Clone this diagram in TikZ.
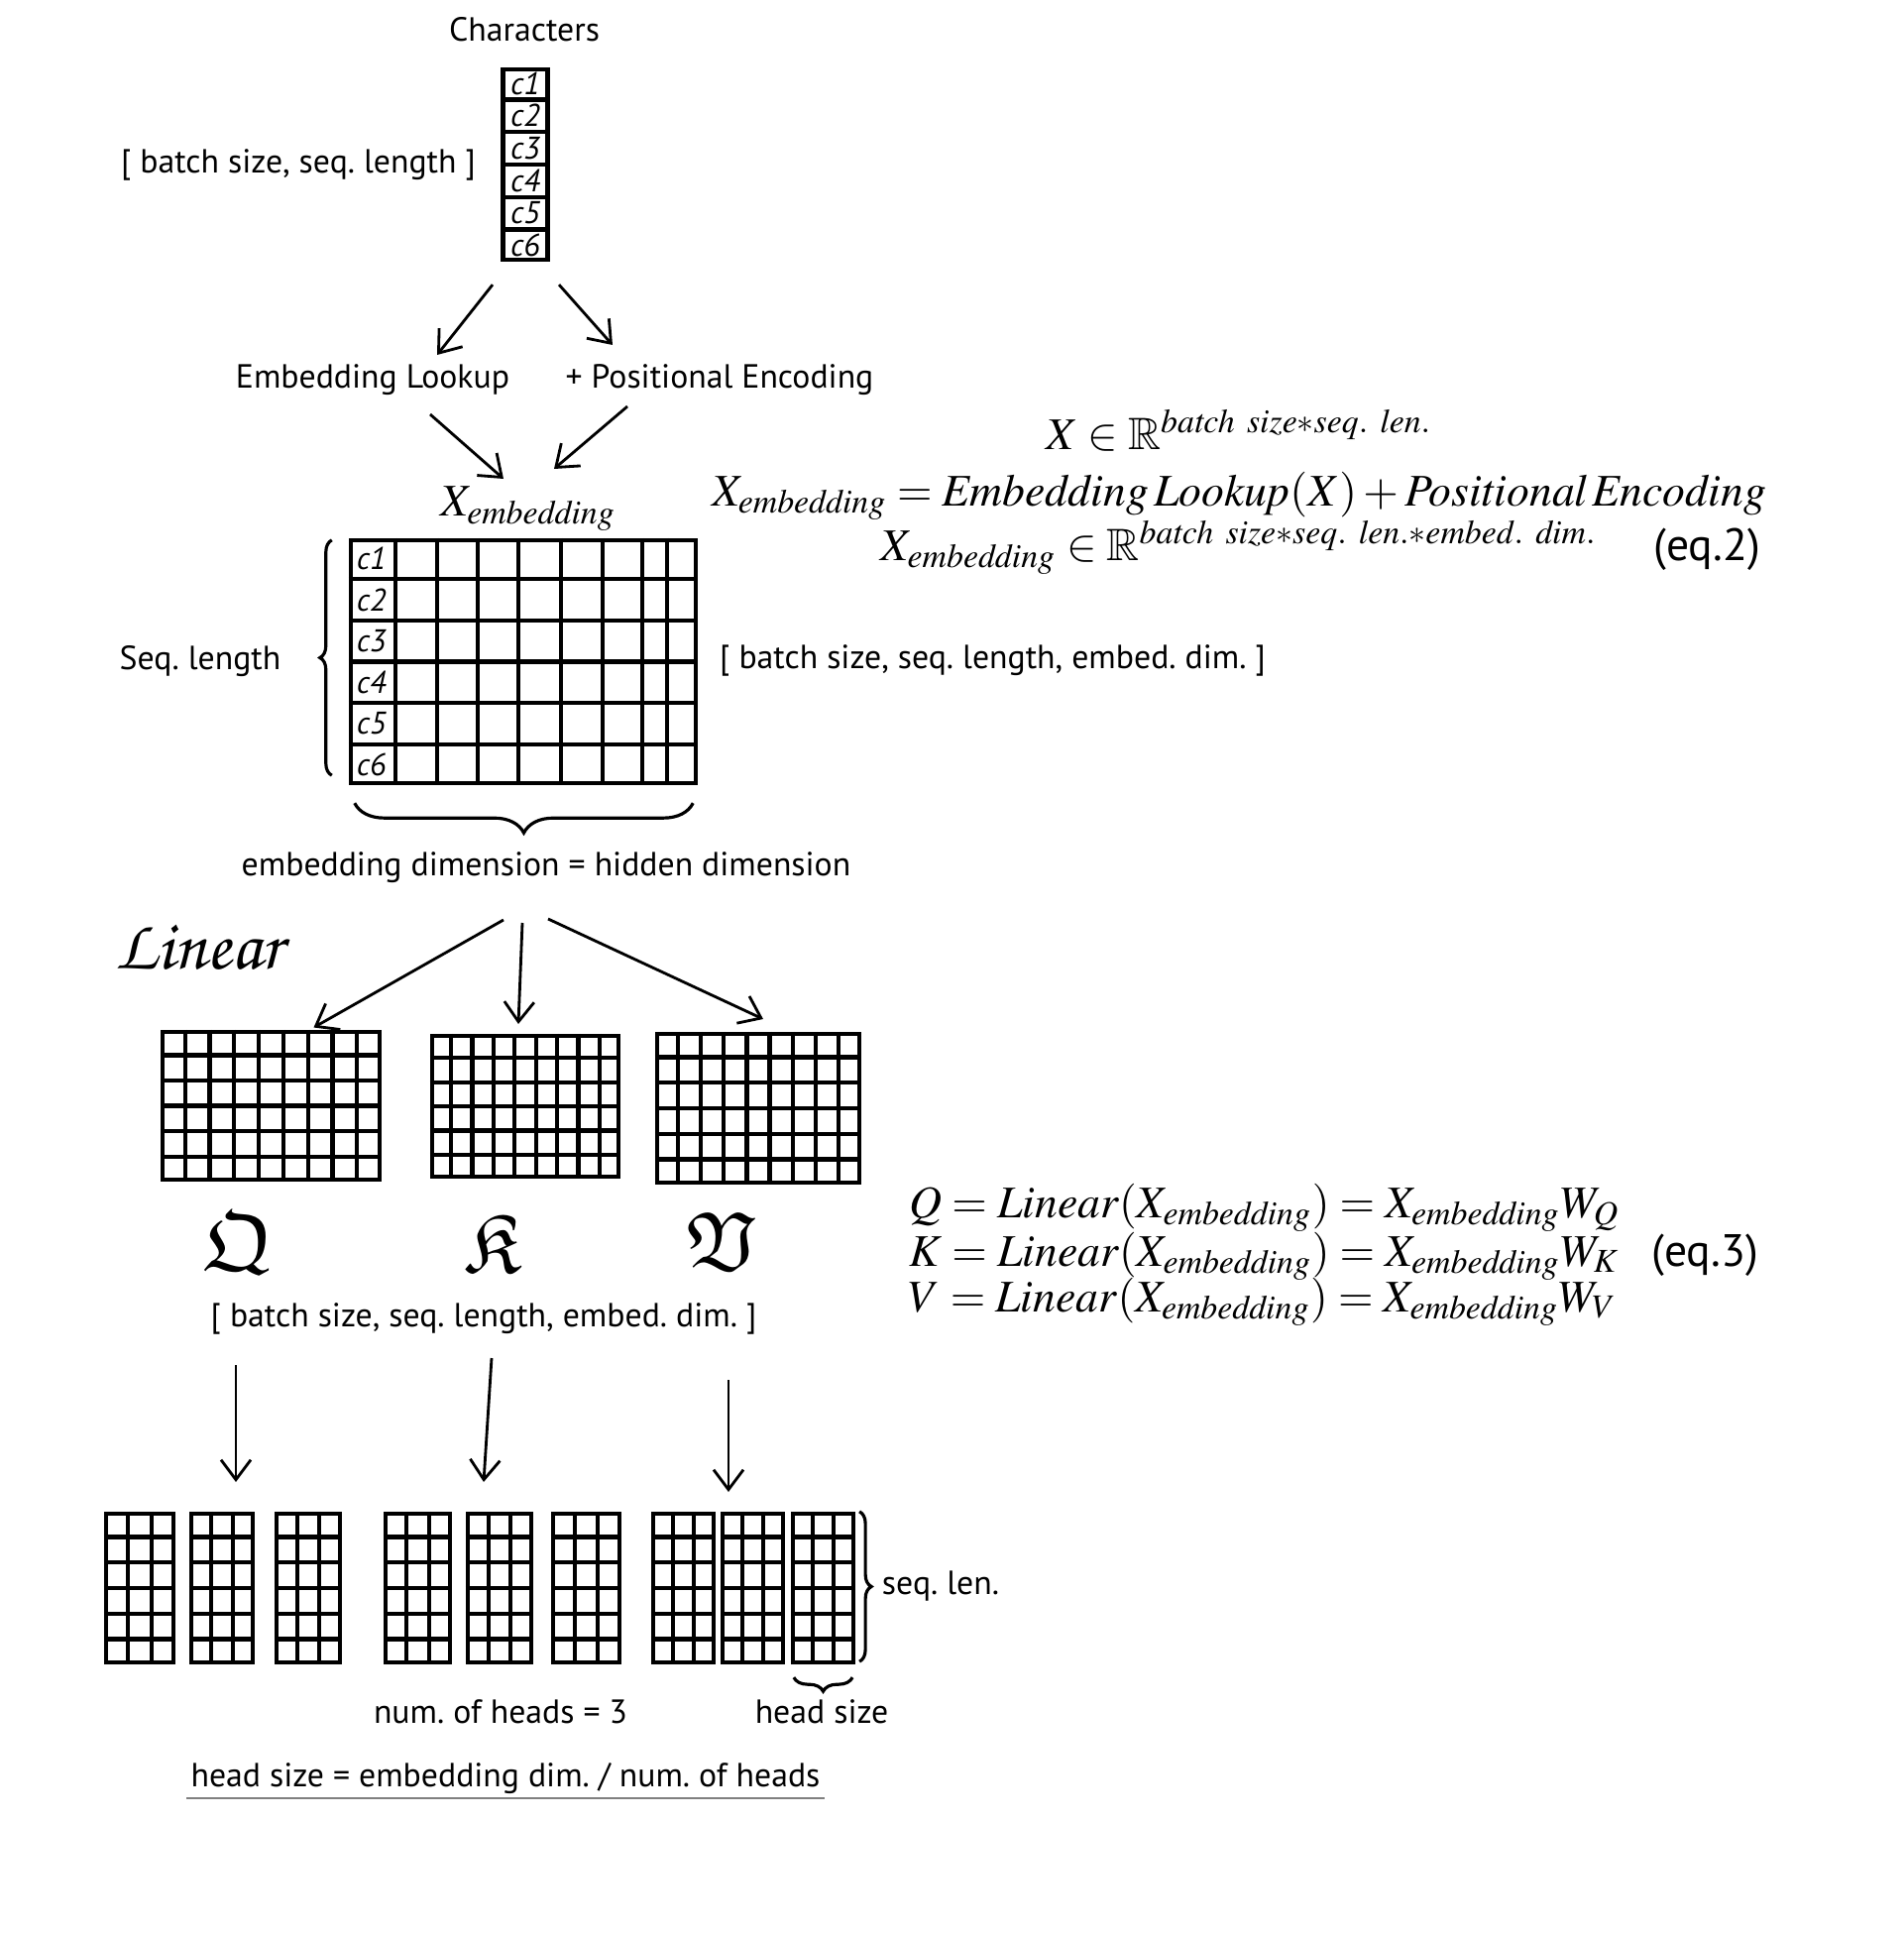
\documentclass[tikz,border=0pt]{standalone}
\usepackage[T1]{fontenc}
\usepackage{mathptmx}
\usepackage{amssymb}
\usepackage[no-math]{fontspec}
\setmainfont{PT Sans}
\frenchspacing
\usetikzlibrary{arrows.meta,positioning,calc,decorations.pathreplacing}
\tikzset{
  lbl/.style={font=\fontsize{9.6}{12}\selectfont,inner sep=1pt},
  mth/.style={font=\fontsize{13}{15}\selectfont,inner sep=1pt},
  hand/.style={font=\fontsize{9}{10}\selectfont\itshape,inner sep=0pt},
  grd/.style={draw,line width=1.2pt,inner sep=0pt},
  gline/.style={line width=1.2pt},
  arr/.style={-{Straight Barb[length=2mm,width=3mm]},line width=0.8pt},
  brc/.style={decorate,decoration={brace,amplitude=#1},line width=0.9pt},
  brc/.default=1.2mm,
  qkv/.style={font=\fontsize{24}{26}\selectfont,inner sep=0pt},
  script/.style={font=\fontencoding{T1}\fontfamily{pzc}\fontseries{mb}\fontshape{it}\fontsize{20.5}{24}\selectfont},
}
% inner lines of a grid node
\newcommand{\hlines}[2]{\pgfmathtruncatemacro\nlast{#2-1}%
  \foreach \j in {1,...,\nlast}
    \draw[gline] ($(#1.north west)!{\j/#2}!(#1.south west)$) -- ($(#1.north east)!{\j/#2}!(#1.south east)$);}
\newcommand{\vlines}[2]{\pgfmathtruncatemacro\nlast{#2-1}%
  \foreach \i in {1,...,\nlast}
    \draw[gline] ($(#1.north west)!{\i/#2}!(#1.north east)$) -- ($(#1.south west)!{\i/#2}!(#1.south east)$);}

\begin{document}
\begin{tikzpicture}[x=0.01cm,y=-0.01cm]
\useasboundingbox (0,0) rectangle (1920,1952);

% characters
\node[lbl] (title) at (529,30) {Characters};
\node[grd,minimum width=0.45cm,minimum height=1.92cm] (chars) at (530,166) {};
\hlines{chars}{6}
\foreach \k in {1,...,6}
  \node[hand] (cc\k) at ($(chars.north)!{(\k-0.5)/6}!(chars.south)$) {c\k};
\node[lbl] (shp1) at (301,166) {[ batch size, seq. length ]};

\node[lbl] (lookup) at (376,383) {Embedding Lookup};
\node[lbl] (posenc) at (726,383) {+ Positional Encoding};
\draw[arr] ($(chars.south)+(-33,23)$) -- ($(lookup)+(65,-25)$);
\draw[arr] ($(chars.south)+(34,23)$) -- ($(posenc)+(-108,-35)$);

% embedding matrix
\node[mth] (xemb) at (533,513) {$X_{\mathit{embedding}}$};
\draw[arr] ($(lookup)+(58,35)$) -- ($(xemb)+(-25,-30)$);
\draw[arr] ($(posenc)+(-93,27)$) -- ($(xemb)+(26,-40)$);
\node[grd,minimum width=3.48cm,minimum height=2.45cm] (xgrid) at (528,667.5) {};
\hlines{xgrid}{6}
\foreach \dx in {47,89,130,171,214,256,296,321}
  \draw[gline] ($(xgrid.north west)+(\dx,0)$) -- ($(xgrid.south west)+(\dx,0)$);
\foreach \k in {1,...,6}
  \node[hand] (xc\k) at ($(xgrid.north west)!{(\k-0.5)/6}!(xgrid.south west)+(23,0)$) {c\k};
\draw[brc] ($(xgrid.south west)+(-17,-10)$) -- ($(xgrid.north west)+(-17,2)$);
\node[lbl] (seqlbl) at (202,667) {Seq. length};
\node[lbl,anchor=west] (shp2) at (722,666) {[ batch size, seq. length, embed. dim. ]};
\draw[brc=3mm] ($(xgrid.south east)+(-5,18)$) -- ($(xgrid.south west)+(6,18)$);
\node[lbl] (dimlbl) at (551,875) {embedding dimension = hidden dimension};

% eq.2
\node[mth,anchor=base] (eqa) at (1250,453) {$X \in \mathbb{R}^{\mathit{batch\ size{*}seq.\ len.}}$};
\node[mth,anchor=base] (eqb) at (1250,510) {$X_{\mathit{embedding}} = \mathit{Embedding\,Lookup}(X) + \mathit{Positional\,Encoding}$};
\node[mth,anchor=base] (eqc) at (1250,565) {$X_{\mathit{embedding}} \in \mathbb{R}^{\mathit{batch\ size{*}seq.\ len.{*}embed.\ dim.}}$};
\node[lbl,font=\fontsize{13}{14}\selectfont,anchor=base east] (eq2) at (1780,565) {(eq.2)};

% Q, K, V
\node[script] (linear) at (201,956) {Linear};
\node[grd,minimum width=2.19cm,minimum height=1.49cm] (qgrid) at (273.5,1115.5) {};
\node[grd,minimum width=1.88cm,minimum height=1.42cm] (kgrid) at (530,1116) {};
\node[grd,minimum width=2.04cm,minimum height=1.50cm] (vgrid) at (765,1118) {};
\foreach \g in {qgrid,kgrid,vgrid} {\hlines{\g}{6} \vlines{\g}{9}}
\draw[arr] ($(dimlbl)+(-43,53)$) -- ($(qgrid)+(43,-79)$);
\draw[arr] ($(dimlbl)+(-24,56)$) -- ($(kgrid)+(-7,-83)$);
\draw[arr] ($(dimlbl)+(2,52)$) -- ($(vgrid)+(5,-90)$);
\node[qkv] (qlet) at (240,1254) {$\mathfrak{Q}$};
\node[qkv] (klet) at (497,1254) {$\mathfrak{K}$};
\node[qkv] (vlet) at (728,1252) {$\mathfrak{V}$};
\node[lbl] (shp3) at (488,1330) {[ batch size, seq. length, embed. dim. ]};

% eq.3
\node[mth,anchor=base west] (eqq) at (913,1228) {$Q = \mathit{Linear}(X_{\mathit{embedding}}) = X_{\mathit{embedding}}W_Q$};
\node[mth,anchor=base west] (eqk) at (913,1277) {$K = \mathit{Linear}(X_{\mathit{embedding}}) = X_{\mathit{embedding}}W_K$};
\node[mth,anchor=base west] (eqv) at (913,1323) {$V = \mathit{Linear}(X_{\mathit{embedding}}) = X_{\mathit{embedding}}W_V$};
\node[lbl,font=\fontsize{13}{14}\selectfont,anchor=base east] (eq3) at (1778,1277) {(eq.3)};

% heads
\foreach \n/\x/\w in {1/141/0.68,2/224/0.62,3/311/0.64,4/421.5/0.65,5/504/0.64,6/591.5/0.67,7/689.5/0.61,8/759.5/0.61,9/830.5/0.61} {
  \node[grd,minimum width=\w cm,minimum height=1.5cm] (h\n) at (\x,1602) {};
  \hlines{h\n}{6} \vlines{h\n}{3}
}
\draw[arr] ($(shp3)+(-250,47)$) -- ($(h2)+(14,-107)$);
\draw[arr] ($(shp3)+(8,40)$) -- ($(h5)+(-16,-107)$);
\draw[arr] ($(shp3)+(247,62)$) -- ($(h8)+(-24.5,-97)$);
\draw[brc] ($(h9.north east)+(4,0)$) -- ($(h9.south east)+(4,-3)$);
\node[lbl] (seqlen) at (949,1600) {seq. len.};
\draw[brc=1.4mm] ($(h9.south east)+(-3,13)$) -- ($(h9.south west)+(3,13)$);
\node[lbl] (nheads) at (505,1727) {num. of heads = 3};
\node[lbl] (hsize) at (829,1727) {head size};
\node[lbl] (hsform) at (510,1794) {head size = embedding dim. / num. of heads};
\draw[gray,line width=0.7pt] (hsform.south west) -- (hsform.south east);
\end{tikzpicture}
\end{document}
